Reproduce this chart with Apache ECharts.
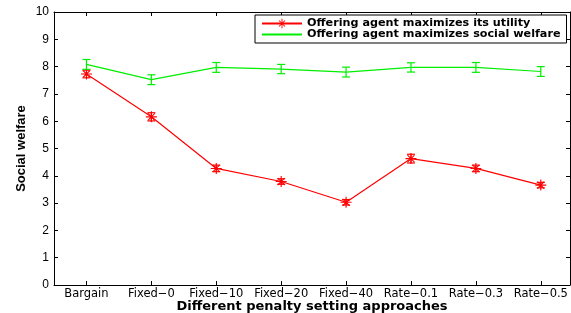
<!DOCTYPE html>
<html>
<head>
    <meta charset="utf-8">
    <title>Social welfare</title>
    <script src="https://cdn.jsdelivr.net/npm/echarts@6/dist/echarts.min.js"></script>
    <style>
        html, body { margin: 0; padding: 0; background: #fff; }
        #chart1 { width: 571px; height: 313px; }
    </style>
</head>
<body>
<div id="chart1"></div>
<script type="text/javascript">
    // 横轴类别
    var categories = ['Bargain', 'Fixed\u22120', 'Fixed\u221210', 'Fixed\u221220', 'Fixed\u221240', 'Rate\u22120.1', 'Rate\u22120.3', 'Rate\u22120.5'];
    var xTicks = [1, 2, 3, 4, 5, 6, 7, 8];
    // 两条曲线的数值和误差
    var utility = [7.73, 6.16, 4.27, 3.79, 3.03, 4.63, 4.27, 3.66];
    var utilityErr = [0.14, 0.15, 0.12, 0.10, 0.10, 0.16, 0.12, 0.10];
    var welfare = [8.08, 7.52, 7.97, 7.91, 7.80, 7.97, 7.97, 7.82];
    var welfareErr = [0.18, 0.18, 0.18, 0.17, 0.18, 0.17, 0.18, 0.18];

    var nameUtility = 'Offering agent maximizes its utility';
    var nameWelfare = 'Offering agent maximizes social welfare';

    // 星号标记 (加号 + 叉号)
    var asterisk = 'path://M9,0L11,0L11,20L9,20Z M0,9L20,9L20,11L0,11Z ' +
        'M3,4.4L4.4,3L17,15.6L15.6,17Z M15.6,3L17,4.4L4.4,17L3,15.6Z';

    function points(vals) {
        return vals.map(function (v, i) { return [xTicks[i], v]; });
    }
    function errData(vals, errs) {
        return vals.map(function (v, i) { return [xTicks[i], v - errs[i], v + errs[i]]; });
    }
    function errRender(color) {
        return function (params, api) {
            var lo = api.coord([api.value(0), api.value(1)]);
            var hi = api.coord([api.value(0), api.value(2)]);
            var w = 4;
            var style = { stroke: color, lineWidth: 1.2 };
            return {
                type: 'group',
                children: [
                    { type: 'line', shape: { x1: lo[0], y1: lo[1], x2: hi[0], y2: hi[1] }, style: style },
                    { type: 'line', shape: { x1: lo[0] - w, y1: lo[1], x2: lo[0] + w, y2: lo[1] }, style: style },
                    { type: 'line', shape: { x1: hi[0] - w, y1: hi[1], x2: hi[0] + w, y2: hi[1] }, style: style }
                ]
            };
        };
    }

    var font = 'Liberation Sans';
    var wide = 'DejaVu Sans';
    var myChart1 = echarts.init(document.getElementById('chart1'));
    var tickStyle = { inside: true, length: 4, lineStyle: { color: '#000' } };
    var lineStyle = { show: true, onZero: false, lineStyle: { color: '#000', width: 1 } };

    var options = {
        animation: false,
        backgroundColor: '#fff',
        grid: { left: 54, right: 1, top: 12, bottom: 28, containLabel: false, outerBoundsMode: 'none' },
        legend: {
            left: 255,
            top: 15,
            orient: 'vertical',
            data: [nameUtility, nameWelfare],
            backgroundColor: '#fff',
            borderColor: '#000',
            borderWidth: 1,
            borderRadius: 0,
            padding: [3, 6, 3, 6],
            itemWidth: 40,
            itemHeight: 12,
            itemGap: 0,
            textStyle: { fontFamily: wide, fontWeight: 'bold', fontSize: 11.2, color: '#000' }
        },
        xAxis: [{
            type: 'value',
            position: 'bottom',
            min: 0.5,
            max: 8.45,
            name: 'Different penalty setting approaches',
            nameLocation: 'middle',
            nameGap: 15,
            nameMoveOverlap: false,
            nameTextStyle: { fontFamily: wide, fontWeight: 'bold', fontSize: 13, color: '#000' },
            axisLine: lineStyle,
            axisTick: Object.assign({ customValues: xTicks }, tickStyle),
            axisLabel: {
                customValues: xTicks,
                margin: 3,
                fontFamily: wide,
                fontSize: 11.5,
                color: '#000',
                formatter: function (v) { return categories[Math.round(v) - 1]; }
            },
            splitLine: { show: false }
        }, {
            type: 'value',
            position: 'top',
            min: 0.5,
            max: 8.45,
            axisLine: lineStyle,
            axisTick: Object.assign({ customValues: xTicks }, tickStyle),
            axisLabel: { show: false },
            splitLine: { show: false }
        }],
        yAxis: [{
            type: 'value',
            position: 'left',
            min: 0,
            max: 10,
            interval: 1,
            name: 'Social welfare',
            nameLocation: 'middle',
            nameGap: 26,
            nameMoveOverlap: false,
            nameTextStyle: { fontFamily: font, fontWeight: 'bold', fontSize: 13, color: '#000' },
            axisLine: lineStyle,
            axisTick: tickStyle,
            axisLabel: { margin: 5, fontFamily: font, fontSize: 12, color: '#000' },
            splitLine: { show: false }
        }, {
            type: 'value',
            position: 'right',
            min: 0,
            max: 10,
            interval: 1,
            axisLine: lineStyle,
            axisTick: tickStyle,
            axisLabel: { show: false },
            splitLine: { show: false }
        }],
        series: [{
            name: nameUtility,
            type: 'line',
            data: points(utility),
            symbol: asterisk,
            symbolSize: 11,
            itemStyle: { color: '#ff0000' },
            lineStyle: { color: '#ff0000', width: 1.2 },
            z: 3
        }, {
            name: nameWelfare,
            type: 'line',
            data: points(welfare),
            symbol: 'none',
            itemStyle: { color: '#00ee00', opacity: 0 },
            lineStyle: { color: '#00ee00', width: 1.2, opacity: 1 },
            z: 3
        }, {
            type: 'custom',
            data: errData(utility, utilityErr),
            renderItem: errRender('#ff0000'),
            z: 4
        }, {
            type: 'custom',
            data: errData(welfare, welfareErr),
            renderItem: errRender('#00ee00'),
            z: 4
        }]
    };
    myChart1.setOption(options);
</script>
</body>
</html>
